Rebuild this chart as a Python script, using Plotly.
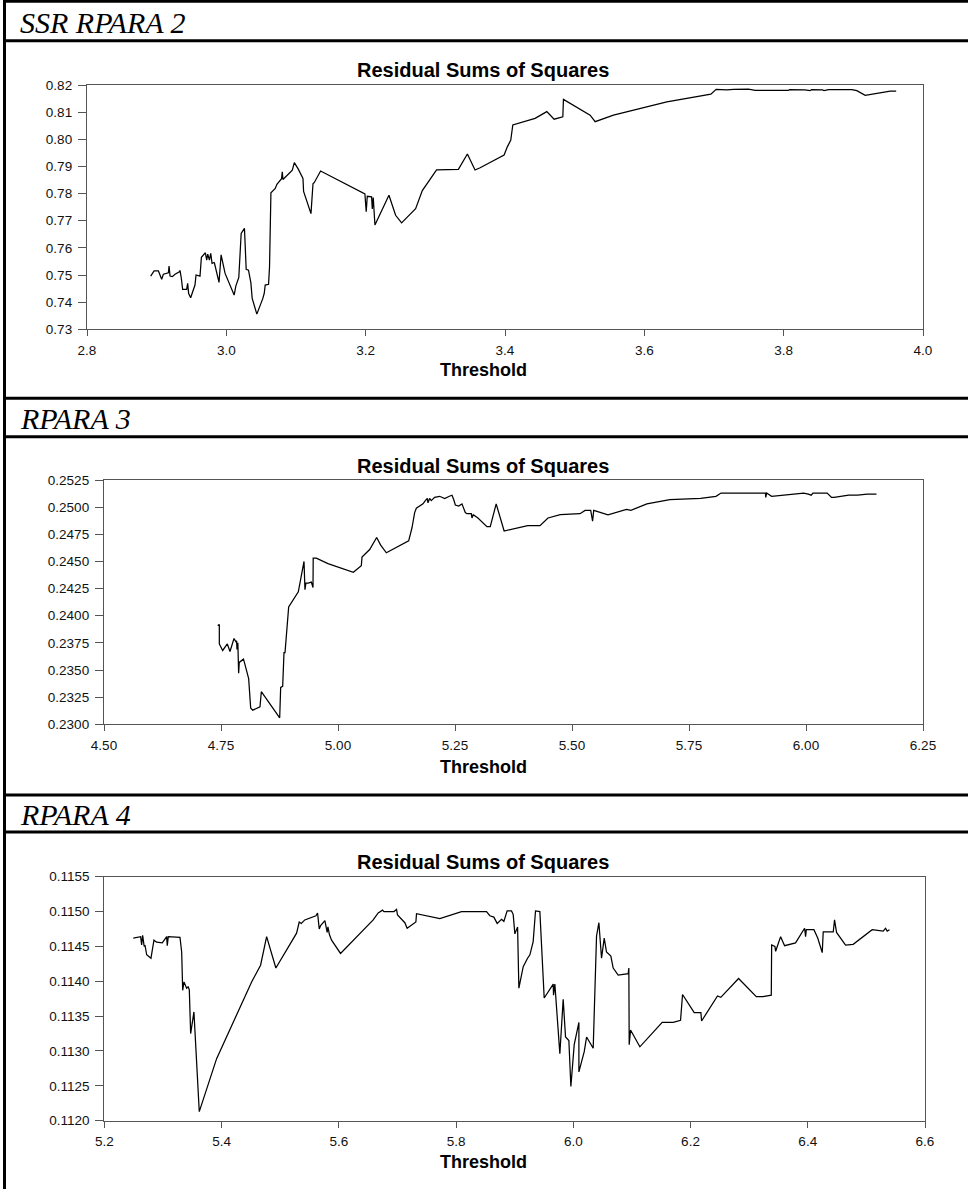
import plotly.graph_objects as go

# ---- RPARA 2 : residual sum of squares by threshold ----
rpara2_threshold = [
    2.8914, 2.8963, 2.9025, 2.9072, 2.9096, 2.9168, 2.9178, 2.9192, 2.9225, 2.9264,
    2.9326, 2.9335, 2.9354, 2.9373, 2.9430, 2.9445, 2.9459, 2.9488, 2.9550, 2.9565,
    2.9622, 2.9642, 2.9699, 2.9718, 2.9733, 2.9757, 2.9776, 2.9795, 2.9824, 2.9830,
    2.9895, 2.9925, 2.9982, 3.0112, 3.0136, 3.0179, 3.0208, 3.0213, 3.0260, 3.0285,
    3.0318, 3.0352, 3.0371, 3.0438, 3.0524, 3.0544, 3.0558, 3.0606, 3.0620, 3.0640,
    3.0702, 3.0726, 3.0793, 3.0803, 3.0813, 3.0947, 3.0976, 3.1033, 3.1100, 3.1109,
    3.1215, 3.1244, 3.1263, 3.1353, 3.1989, 3.2008, 3.2023, 3.2085, 3.2095, 3.2109,
    3.2133, 3.2334, 3.2430, 3.2516, 3.2717, 3.2813, 3.3018, 3.3331, 3.3460, 3.3570,
    3.3643, 3.3987, 3.4035, 3.4083, 3.4112, 3.4432, 3.4600, 3.4705, 3.4830, 3.4839,
    3.5222, 3.5294, 3.5557, 3.6323, 3.6955, 3.7031, 3.7184, 3.7280, 3.7495, 3.7591,
    3.8069, 3.8085, 3.8300, 3.8380, 3.8400, 3.8560, 3.8580, 3.8644, 3.8979, 3.9050,
    3.9170, 3.9457, 3.9530, 3.9615,
]
rpara2_ssr = [
    0.7496, 0.7515, 0.7515, 0.7484, 0.7503, 0.7508, 0.7533, 0.7496, 0.7494, 0.7503,
    0.7512, 0.7517, 0.7488, 0.7447, 0.7447, 0.7469, 0.7432, 0.7416, 0.7463, 0.7500,
    0.7496, 0.7565, 0.7582, 0.7555, 0.7577, 0.7555, 0.7580, 0.7543, 0.7546, 0.7543,
    0.7473, 0.7574, 0.7506, 0.7426, 0.7459, 0.7491, 0.7629, 0.7653, 0.7672, 0.7521,
    0.7518, 0.7472, 0.7414, 0.7356, 0.7414, 0.7432, 0.7463, 0.7466, 0.7530, 0.7803,
    0.7819, 0.7834, 0.7855, 0.7880, 0.7852, 0.7886, 0.7914, 0.7890, 0.7856, 0.7808,
    0.7726, 0.7836, 0.7841, 0.7883, 0.7799, 0.7733, 0.7790, 0.7788, 0.7743, 0.7785,
    0.7684, 0.7794, 0.7720, 0.7692, 0.7744, 0.7811, 0.7887, 0.7889, 0.7946, 0.7887,
    0.7895, 0.7942, 0.7973, 0.7997, 0.8053, 0.8077, 0.8102, 0.8074, 0.8083, 0.8147,
    0.8089, 0.8065, 0.8089, 0.8138, 0.8166, 0.8184, 0.8182, 0.8184, 0.8185, 0.8180,
    0.8180, 0.8183, 0.8182, 0.8179, 0.8183, 0.8182, 0.8179, 0.8183, 0.8183, 0.8179,
    0.8162, 0.8174, 0.8177, 0.8177,
]

# ---- RPARA 3 ----
rpara3_threshold = [
    4.7429, 4.7464, 4.7464, 4.7536, 4.7635, 4.7692, 4.7778, 4.7820, 4.7834, 4.7841,
    4.7860, 4.7877, 4.7890, 4.7980, 4.8000, 4.8091, 4.8134, 4.8177, 4.8333, 4.8362,
    4.8754, 4.8775, 4.8818, 4.8846, 4.8868, 4.8946, 4.9152, 4.9274, 4.9294, 4.9315,
    4.9365, 4.9430, 4.9466, 4.9470, 4.9537, 4.9786, 5.0328, 5.0498, 5.0513, 5.0677,
    5.0826, 5.0912, 5.1033, 5.1510, 5.1581, 5.1638, 5.1674, 5.1816, 5.1866, 5.1909,
    5.1922, 5.1958, 5.1993, 5.2065, 5.2172, 5.2279, 5.2379, 5.2436, 5.2472, 5.2507,
    5.2578, 5.2649, 5.2720, 5.2755, 5.2848, 5.2862, 5.2890, 5.2990, 5.3182, 5.3253,
    5.3380, 5.3550, 5.4054, 5.4316, 5.4487, 5.4650, 5.4750, 5.5171, 5.5280, 5.5400,
    5.5440, 5.5464, 5.5769, 5.6165, 5.6258, 5.6600, 5.7090, 5.7748, 5.8077, 5.8184,
    5.9133, 5.9140, 5.9160, 5.9265, 5.9950, 6.0050, 6.0110, 6.0150, 6.0453, 6.0545,
    6.0600, 6.0914, 6.1100, 6.1310, 6.1506,
]
rpara3_ssr = [
    0.2391, 0.2392, 0.2374, 0.2368, 0.2374, 0.2367, 0.2379, 0.2376, 0.2377, 0.2369,
    0.2375, 0.2347, 0.2357, 0.2360, 0.2357, 0.2342, 0.2315, 0.2313, 0.2316, 0.2330,
    0.2306, 0.2334, 0.2335, 0.2366, 0.2366, 0.2408, 0.2422, 0.2450, 0.2424, 0.2430,
    0.2430, 0.2431, 0.2426, 0.2453, 0.2453, 0.2448, 0.2440, 0.2446, 0.2454, 0.2461,
    0.2472, 0.2465, 0.2458, 0.2469, 0.2481, 0.2495, 0.2499, 0.2503, 0.2506, 0.2508,
    0.2504, 0.2508, 0.2506, 0.2509, 0.2510, 0.2508, 0.2510, 0.2511, 0.2507, 0.2502,
    0.2501, 0.2503, 0.2495, 0.2494, 0.2494, 0.2490, 0.2493, 0.2490, 0.2482, 0.2482,
    0.2503, 0.2478, 0.2483, 0.2483, 0.2490, 0.2492, 0.2493, 0.2494, 0.2497, 0.2497,
    0.2487, 0.2497, 0.2493, 0.2498, 0.2497, 0.2503, 0.2507, 0.2508, 0.2510, 0.2513,
    0.2513, 0.2509, 0.2513, 0.2510, 0.2513, 0.2512, 0.2511, 0.2513, 0.2513, 0.2509,
    0.2509, 0.2511, 0.2511, 0.2512, 0.2512,
]

# ---- RPARA 4 ----
rpara4_threshold = [
    5.2494, 5.2620, 5.2637, 5.2654, 5.2680, 5.2694, 5.2723, 5.2796, 5.2847, 5.2893,
    5.2989, 5.3064, 5.3074, 5.3091, 5.3291, 5.3320, 5.3337, 5.3359, 5.3405, 5.3430,
    5.3450, 5.3473, 5.3529, 5.3620, 5.3916, 5.4513, 5.4666, 5.4769, 5.4927, 5.5280,
    5.5325, 5.5360, 5.5420, 5.5610, 5.5638, 5.5667, 5.5690, 5.5763, 5.5802, 5.5815,
    5.5840, 5.5877, 5.6030, 5.6587, 5.6672, 5.6747, 5.6770, 5.6940, 5.6985, 5.7002,
    5.7127, 5.7166, 5.7315, 5.7326, 5.7724, 5.8094, 5.8406, 5.8520, 5.8577, 5.8645,
    5.8702, 5.8776, 5.8816, 5.8872, 5.8946, 5.8975, 5.9004, 5.9030, 5.9050, 5.9072,
    5.9146, 5.9220, 5.9260, 5.9316, 5.9356, 5.9430, 5.9504, 5.9658, 5.9663, 5.9686,
    5.9771, 5.9828, 5.9868, 5.9925, 5.9959, 6.0016, 6.0096, 6.0096, 6.0187, 6.0227,
    6.0283, 6.0340, 6.0397, 6.0437, 6.0482, 6.0528, 6.0567, 6.0641, 6.0681, 6.0766,
    6.0937, 6.0948, 6.0954, 6.0977, 6.1136, 6.1517, 6.1705, 6.1830, 6.1864, 6.2063,
    6.2177, 6.2189, 6.2460, 6.2517, 6.2820, 6.3122, 6.3236, 6.3378, 6.3384, 6.3440,
    6.3452, 6.3537, 6.3605, 6.3792, 6.3946, 6.3963, 6.3975, 6.4105, 6.4170, 6.4247,
    6.4264, 6.4435, 6.4457, 6.4491, 6.4645, 6.4775, 6.5099, 6.5287, 6.5327, 6.5355,
    6.5395,
]
rpara4_ssr = [
    0.11462, 0.11464, 0.11452, 0.11466, 0.11450, 0.11452, 0.11438, 0.11433, 0.11459, 0.11456,
    0.11455, 0.11464, 0.11451, 0.11464, 0.11463, 0.11442, 0.11387, 0.11399, 0.11390, 0.11392,
    0.11388, 0.11325, 0.11356, 0.11213, 0.11289, 0.11399, 0.11423, 0.11464, 0.11419, 0.11469,
    0.11485, 0.11483, 0.11488, 0.11494, 0.11498, 0.11475, 0.11480, 0.11487, 0.11470, 0.11478,
    0.11467, 0.11459, 0.11440, 0.11488, 0.11498, 0.11502, 0.11500, 0.11500, 0.11503, 0.11495,
    0.11484, 0.11476, 0.11485, 0.11497, 0.11490, 0.11500, 0.11500, 0.11500, 0.11494, 0.11492,
    0.11483, 0.11489, 0.11486, 0.11501, 0.11501, 0.11496, 0.11468, 0.11474, 0.11478, 0.11390,
    0.11421, 0.11433, 0.11438, 0.11457, 0.11501, 0.11500, 0.11376, 0.11396, 0.11380, 0.11396,
    0.11296, 0.11374, 0.11320, 0.11315, 0.11249, 0.11309, 0.11341, 0.11270, 0.11299, 0.11320,
    0.11313, 0.11304, 0.11465, 0.11484, 0.11433, 0.11462, 0.11442, 0.11436, 0.11419, 0.11409,
    0.11411, 0.11419, 0.11309, 0.11330, 0.11306, 0.11341, 0.11341, 0.11344, 0.11381, 0.11355,
    0.11355, 0.11343, 0.11379, 0.11377, 0.11404, 0.11378, 0.11378, 0.11380, 0.11452, 0.11450,
    0.11443, 0.11464, 0.11451, 0.11455, 0.11476, 0.11464, 0.11474, 0.11474, 0.11462, 0.11441,
    0.11471, 0.11471, 0.11488, 0.11470, 0.11452, 0.11453, 0.11474, 0.11472, 0.11476, 0.11472,
    0.11474,
]

section_titles = ["SSR RPARA 2", "RPARA 3", "RPARA 4"]
chart_title = "Residual Sums of Squares"
x_title = "Threshold"

W, H = 968, 1189


def px_x(v):
    return v / W


def px_y(v):
    return 1 - v / H


SANS = "Liberation Sans, Arial, sans-serif"
SERIF = "Liberation Serif, Times New Roman, serif"
AX_COLOR = "#555555"

fig = go.Figure()

panels = [
    # series, plot box (left, right, top, bottom in px), x range/step/format, y range/step/format
    dict(x=rpara2_threshold, y=rpara2_ssr, box=(87, 923, 85, 329.3),
         xr=[2.8, 4.0], dx=0.2, xf=".1f", yr=[0.73, 0.82], dy=0.01, yf=".2f",
         band=(1.3, 40.7), title_y=70, xlab_y=370),
    dict(x=rpara3_threshold, y=rpara3_ssr, box=(104, 923, 480, 724.3),
         xr=[4.5, 6.25], dx=0.25, xf=".2f", yr=[0.23, 0.2525], dy=0.0025, yf=".4f",
         band=(398.3, 436.7), title_y=466, xlab_y=766.7),
    dict(x=rpara4_threshold, y=rpara4_ssr, box=(104.3, 925, 876.7, 1120.7),
         xr=[5.2, 6.6], dx=0.2, xf=".1f", yr=[0.112, 0.1155], dy=0.0005, yf=".4f",
         band=(795, 832), title_y=861.7, xlab_y=1161.7),
]

layout = dict(
    width=W, height=H, autosize=False,
    margin=dict(l=0, r=0, t=0, b=0, pad=0),
    paper_bgcolor="white", plot_bgcolor="white",
    showlegend=False,
    shapes=[], annotations=[],
)

for i, p in enumerate(panels, start=1):
    sfx = "" if i == 1 else str(i)
    l, r, t, b = p["box"]
    fig.add_trace(go.Scatter(
        x=p["x"], y=p["y"], mode="lines",
        line=dict(color="black", width=1.25),
        xaxis="x" + sfx, yaxis="y" + sfx, hoverinfo="skip",
    ))
    common = dict(
        showline=True, mirror=True, linecolor=AX_COLOR, linewidth=1.3,
        showgrid=False, zeroline=False, ticks="outside", tickcolor=AX_COLOR,
        tickwidth=1.3, automargin=False,
        tickfont=dict(family=SANS, size=13.5, color="#111111"),
    )
    layout["xaxis" + sfx] = dict(
        common, domain=[px_x(l), px_x(r)], range=p["xr"], tick0=p["xr"][0],
        dtick=p["dx"], tickformat=p["xf"], ticklen=6, ticklabelstandoff=2,
        anchor="y" + sfx,
    )
    layout["yaxis" + sfx] = dict(
        common, domain=[px_y(b), px_y(t)], range=p["yr"], tick0=p["yr"][0],
        dtick=p["dy"], tickformat=p["yf"], ticklen=8, ticklabelstandoff=3,
        anchor="x" + sfx,
    )

    # section heading band
    y0, y1 = p["band"]
    for yy in (y0, y1):
        layout["shapes"].append(dict(
            type="line", xref="paper", yref="paper",
            x0=px_x(3), x1=1, y0=px_y(yy), y1=px_y(yy),
            line=dict(color="black", width=3),
        ))
    layout["annotations"].append(dict(
        text=section_titles[i - 1], xref="paper", yref="paper",
        x=px_x(18), y=px_y((y0 + y1) / 2 + 1), xanchor="left", yanchor="middle",
        showarrow=False,
        font=dict(family=SERIF, size=30, color="black", style="italic"),
    ))
    layout["annotations"].append(dict(
        text="<b>" + chart_title + "</b>", xref="paper", yref="paper",
        x=px_x(483), y=px_y(p["title_y"]), xanchor="center", yanchor="middle",
        showarrow=False, font=dict(family=SANS, size=20, color="black"),
    ))
    layout["annotations"].append(dict(
        text="<b>" + x_title + "</b>", xref="paper", yref="paper",
        x=px_x(483), y=px_y(p["xlab_y"]), xanchor="center", yanchor="middle",
        showarrow=False, font=dict(family=SANS, size=18, color="black"),
    ))

# outer left rule
layout["shapes"].append(dict(
    type="line", xref="paper", yref="paper",
    x0=px_x(4.5), x1=px_x(4.5), y0=0, y1=1,
    line=dict(color="black", width=3),
))

fig.update_layout(**layout)
fig.write_html("out.html")
